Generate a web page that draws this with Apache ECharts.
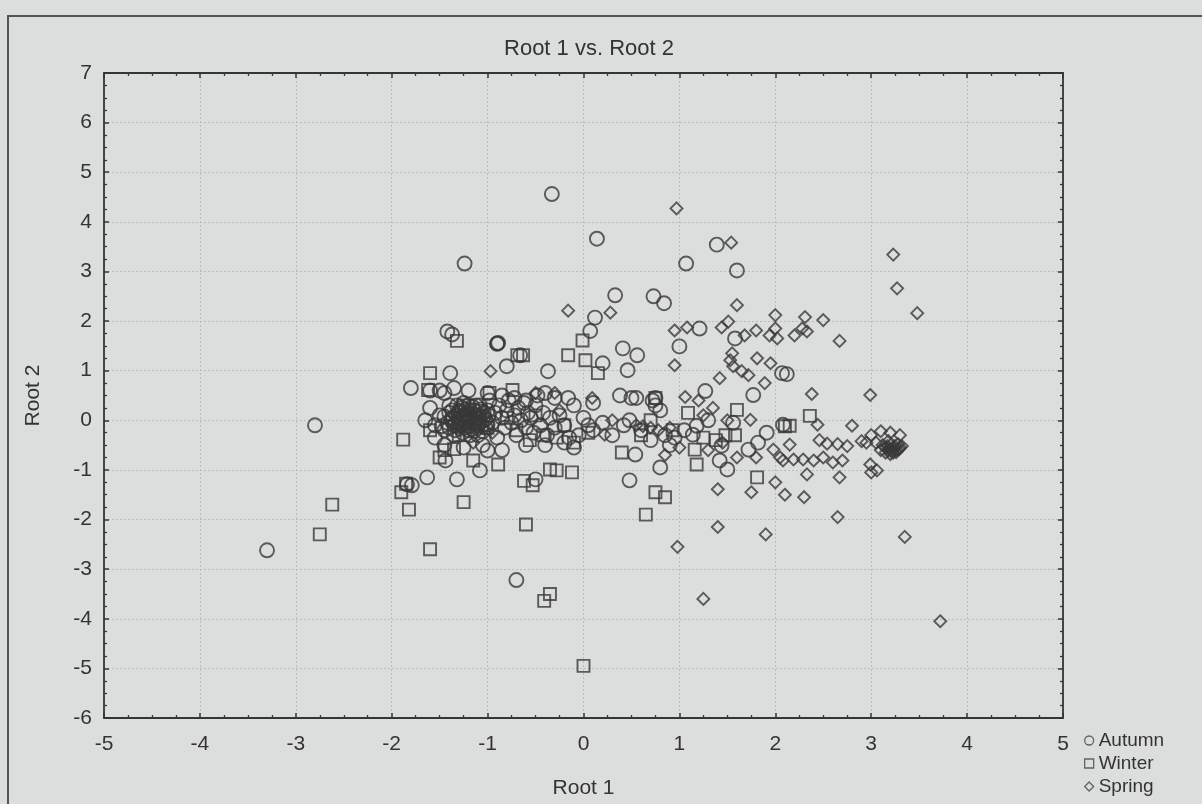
<!DOCTYPE html>
<html>
<head>
<meta charset="utf-8">
<title>Root 1 vs. Root 2</title>
<script src="https://cdn.jsdelivr.net/npm/echarts@6/dist/echarts.min.js"></script>
<style>
  html, body { margin: 0; padding: 0; background: #dcdedd; }
  #chart { width: 1202px; height: 804px; }
</style>
</head>
<body>
<div id="chart"></div>
<script>
// 轴刻度
var xTicks = { min: -5, max: 5, step: 1 }
var yTicks = { min: -6, max: 7, step: 1 }
var seasons = ['Autumn', 'Winter', 'Spring']

// Autumn (circles), values
var autumn = [
  [-0.33, 4.56], [0.14, 3.66], [-1.24, 3.16], [1.07, 3.16], [1.39, 3.54], [1.6, 3.02],
  [0.33, 2.52], [0.73, 2.5], [0.84, 2.36], [0.12, 2.07], [1.21, 1.85], [1.58, 1.65], [1.0, 1.49],
  [0.07, 1.8], [0.41, 1.45], [0.56, 1.31], [0.2, 1.15], [0.46, 1.01],
  [-1.42, 1.79], [-1.37, 1.73], [-0.9, 1.55], [-0.89, 1.56], [-0.9, 1.54], [-0.66, 1.31], [-0.8, 1.09], [-0.37, 0.99], [-1.39, 0.95],
  [2.07, 0.95], [2.12, 0.93], [1.27, 0.59], [1.77, 0.51], [0.75, 0.45], [0.72, 0.4],
  [1.3, 0.0], [1.56, -0.05], [2.08, -0.09], [1.91, -0.25], [1.18, -0.11], [1.14, -0.29], [1.44, -0.51],
  [1.72, -0.59], [1.82, -0.45], [1.42, -0.81], [1.5, -0.99],
  [-2.8, -0.1], [-3.3, -2.62], [-0.7, -3.22],
  [-1.8, 0.65], [0.48, -1.21], [0.54, -0.69], [-0.5, -1.19], [-1.84, -1.29], [-1.79, -1.31], [-1.63, -1.15],
  [-1.32, -1.19], [-1.08, -1.01], [-1.0, -0.61], [-1.44, -0.81],
  [0.38, 0.5], [0.5, 0.45], [0.55, 0.45], [0.75, 0.3], [0.8, 0.2], [0.85, -0.3], [0.7, -0.4], [0.6, -0.2],
  [0.42, -0.1], [0.3, -0.3], [0.8, -0.95], [0.9, -0.5], [0.95, -0.35], [1.05, -0.2], [0.48, 0.0], [0.2, -0.05],
  [0.1, -0.2], [0.05, -0.1], [-0.05, -0.3], [-0.1, -0.55], [-0.15, -0.35], [0.0, 0.05], [-0.2, -0.1],
  [-1.6, 0.6], [-1.5, 0.6], [-1.45, 0.55], [-1.35, 0.65], [-1.2, 0.6], [-1.0, 0.55], [-0.85, 0.5], [-0.72, 0.45],
  [-0.6, 0.4], [-0.48, 0.5], [-0.4, 0.55], [-0.3, 0.45], [-0.16, 0.45], [-0.1, 0.3], [0.1, 0.35],
  [-1.65, 0.0], [-1.55, -0.1], [-1.5, 0.1], [-1.45, -0.2], [-1.4, 0.3], [-1.38, 0.0], [-1.35, -0.3], [-1.3, 0.15],
  [-1.28, -0.1], [-1.25, 0.35], [-1.22, 0.05], [-1.2, -0.2], [-1.18, 0.2], [-1.15, -0.05], [-1.12, 0.1], [-1.1, -0.3],
  [-1.08, 0.3], [-1.05, 0.0], [-1.02, -0.15], [-1.0, 0.2], [-0.98, 0.4], [-0.95, -0.05], [-0.92, 0.15], [-0.9, -0.35],
  [-0.88, 0.3], [-0.85, 0.05], [-0.82, -0.15], [-0.8, 0.2], [-0.78, 0.4], [-0.75, -0.05], [-0.72, 0.1], [-0.7, -0.3],
  [-0.68, 0.25], [-0.65, 0.0], [-0.62, 0.35], [-0.6, -0.15], [-0.58, 0.15], [-0.55, 0.05], [-0.52, -0.25], [-0.5, 0.3],
  [-0.45, -0.1], [-0.42, 0.15], [-0.38, -0.3], [-0.35, 0.05], [-0.3, -0.15], [-0.25, 0.1], [-0.2, -0.45], [-0.4, -0.5],
  [-0.6, -0.5], [-0.85, -0.6], [-1.05, -0.5], [-1.25, -0.55], [-1.45, -0.5], [-1.55, -0.35], [-1.6, 0.25],
  [-1.33, 0.1], [-1.3, -0.05], [-1.27, 0.25], [-1.24, -0.15], [-1.21, 0.15], [-1.19, -0.02], [-1.16, 0.28], [-1.14, -0.22],
  [-1.11, 0.05], [-1.09, 0.18], [-1.06, -0.1], [-1.04, 0.08], [-1.2, 0.0], [-1.25, 0.1], [-1.15, 0.12], [-1.3, 0.2],
  [-1.1, -0.1], [-1.35, -0.1], [-1.4, 0.15], [-1.18, -0.3],
  [-1.42, -0.05], [-1.4, -0.15], [-1.37, 0.2], [-1.36, 0.05], [-1.34, -0.2], [-1.32, 0.3], [-1.31, -0.12], [-1.29, 0.05],
  [-1.28, 0.18], [-1.26, -0.25], [-1.26, 0.0], [-1.23, 0.22], [-1.23, -0.08], [-1.22, 0.12], [-1.2, 0.3], [-1.19, -0.12],
  [-1.17, 0.05], [-1.16, -0.18], [-1.14, 0.2], [-1.13, -0.02], [-1.12, 0.3], [-1.11, -0.15], [-1.09, 0.08], [-1.08, -0.05],
  [-1.07, 0.22], [-1.05, -0.22], [-1.04, 0.15], [-1.02, 0.02], [-1.0, -0.08], [-0.99, 0.1], [-1.45, 0.08], [-1.48, -0.12]
]

// Winter (squares)
var winter = [
  [0.0, -4.95], [-0.35, -3.5], [-0.41, -3.64], [-1.6, -2.6], [-2.75, -2.3], [-2.62, -1.7], [-1.9, -1.45], [-1.82, -1.8],
  [-1.85, -1.28], [-1.25, -1.65], [-0.6, -2.1], [0.65, -1.9], [0.75, -1.45], [0.85, -1.55],
  [0.4, -0.65], [1.16, -0.59], [1.18, -0.89], [1.81, -1.15], [1.09, 0.15], [1.6, 0.21], [2.36, 0.09], [2.15, -0.11],
  [1.25, -0.35], [1.38, -0.4], [1.48, -0.3], [1.58, -0.3], [2.1, -0.12],
  [-1.32, 1.6], [-0.69, 1.31], [-0.63, 1.31], [-0.01, 1.61], [-0.16, 1.31], [0.02, 1.21], [0.15, 0.95], [-1.6, 0.95],
  [-1.62, 0.61], [-0.98, 0.55], [-0.74, 0.61], [0.75, 0.45], [0.7, 0.0], [0.93, -0.2], [0.6, -0.3],
  [-1.88, -0.39], [-1.45, -0.6], [-1.35, -0.58], [-1.15, -0.81], [-0.89, -0.89], [-0.56, -0.4], [-0.42, -0.3],
  [-0.28, -0.35], [-0.35, -0.99], [-0.28, -1.01], [-0.12, -1.05], [-0.53, -1.31], [-0.62, -1.22], [-1.5, -0.75],
  [-1.6, -0.2], [-1.3, -0.3], [-1.0, -0.15], [-0.7, -0.2], [-0.1, -0.45], [0.05, -0.25], [-0.2, -0.1], [-0.8, 0.05],
  [-1.25, 0.3], [-0.5, 0.1]
]

// Spring (diamonds)
var spring = [
  [3.72, -4.05], [1.25, -3.6], [0.98, -2.55], [1.4, -2.15], [1.9, -2.3], [3.35, -2.35], [2.65, -1.95], [2.3, -1.55],
  [2.1, -1.5], [1.75, -1.45], [1.4, -1.39], [2.0, -1.25], [2.33, -1.09], [2.67, -1.15], [2.99, -0.89], [3.06, -1.01], [3.0, -1.05],
  [3.23, 3.34], [3.27, 2.66], [3.48, 2.16], [1.54, 3.58], [0.97, 4.27],
  [-0.16, 2.21], [0.28, 2.17], [1.6, 2.32], [2.0, 2.12], [2.31, 2.08], [2.5, 2.02], [2.67, 1.6],
  [0.95, 1.81], [1.08, 1.87], [1.44, 1.87], [1.51, 1.99], [1.68, 1.71], [1.8, 1.81], [2.0, 1.85], [1.94, 1.71],
  [2.02, 1.65], [2.2, 1.71], [2.28, 1.85], [2.33, 1.79],
  [0.95, 1.11], [1.55, 1.35], [1.53, 1.21], [1.56, 1.09], [1.81, 1.25], [1.95, 1.15], [1.65, 0.99], [1.72, 0.91],
  [1.42, 0.85], [1.89, 0.75], [2.38, 0.53], [2.99, 0.51], [1.06, 0.47], [1.35, 0.25], [1.74, 0.01], [2.44, -0.09],
  [2.8, -0.11], [2.15, -0.49], [1.98, -0.59],
  [2.46, -0.4], [2.54, -0.47], [2.65, -0.48], [2.75, -0.52], [2.9, -0.42],
  [3.0, -0.3], [3.1, -0.22], [3.2, -0.25], [3.3, -0.3], [2.95, -0.45],
  [3.12, -0.5], [3.15, -0.55], [3.18, -0.6], [3.2, -0.5], [3.22, -0.58], [3.25, -0.52], [3.27, -0.6], [3.3, -0.55],
  [3.15, -0.65], [3.23, -0.65], [3.1, -0.6], [3.28, -0.48], [3.18, -0.42], [3.05, -0.45],
  [3.17, -0.52], [3.19, -0.57], [3.21, -0.62], [3.24, -0.56], [3.26, -0.64], [3.29, -0.58], [3.32, -0.52], [3.2, -0.68],
  [2.05, -0.75], [2.08, -0.81], [2.19, -0.79], [2.29, -0.79], [2.4, -0.81], [2.5, -0.75], [2.6, -0.85], [2.7, -0.81],
  [0.22, -0.29], [0.09, 0.45], [-0.97, 0.99],
  [0.55, -0.1], [0.62, -0.12], [0.7, -0.15], [0.78, -0.2], [0.9, -0.15], [1.0, -0.55], [0.85, -0.7], [1.45, -0.45],
  [1.6, -0.75], [1.8, -0.75], [1.3, -0.6], [1.25, 0.1], [1.2, 0.4], [1.5, 0.0], [0.3, 0.0], [-0.25, 0.2],
  [-0.5, 0.55], [-0.3, 0.55], [-1.15, -0.45], [-0.95, -0.25], [-1.3, -0.2]
]

var ink = '#353535'
var font = 'Liberation Sans, Arial, sans-serif'

function axisCommon(t, pos, showLabel) {
  return {
    type: 'value',
    position: pos,
    min: t.min,
    max: t.max,
    interval: t.step,
    axisLine: { show: true, onZero: false, lineStyle: { color: ink, width: 1.8 } },
    axisTick: { show: true, inside: true, length: 5, lineStyle: { color: ink, width: 1.5 } },
    minorTick: { show: true, splitNumber: 4, length: 3, lineStyle: { color: ink, width: 1.3 } },
    axisLabel: { show: showLabel, color: '#333', fontSize: 21, fontFamily: font },
    splitLine: { show: false }
  }
}

var chart = echarts.init(document.getElementById('chart'))

var xMain = axisCommon(xTicks, 'bottom', true)
xMain.axisLabel.margin = 16
xMain.name = 'Root 1'
xMain.nameLocation = 'middle'
xMain.nameGap = 60
xMain.nameTextStyle = { color: '#333', fontSize: 21, fontFamily: font }
xMain.splitLine = { show: true, lineStyle: { color: '#b8bcbc', type: [2, 2], width: 1 } }

var yMain = axisCommon(yTicks, 'left', true)
yMain.axisLabel.margin = 12
yMain.name = 'Root 2'
yMain.nameLocation = 'middle'
yMain.nameGap = 60
yMain.nameTextStyle = { color: '#333', fontSize: 21, fontFamily: font }
yMain.splitLine = { show: true, lineStyle: { color: '#b8bcbc', type: [2, 2], width: 1 } }

var xTop = axisCommon(xTicks, 'top', false)
var yRight = axisCommon(yTicks, 'right', false)

function scatter(name, symbol, size, data) {
  return {
    name: name,
    type: 'scatter',
    symbol: symbol,
    symbolSize: size,
    data: data,
    itemStyle: { color: 'rgba(0,0,0,0)', borderColor: '#383838', borderWidth: 1.9 },
    emphasis: { disabled: true },
    silent: true
  }
}

chart.setOption({
  backgroundColor: '#dcdedd',
  animation: false,
  title: {
    text: 'Root 1 vs. Root 2',
    left: 584,
    top: 33,
    textAlign: 'center',
    textStyle: { color: '#333', fontSize: 22, fontWeight: 'normal', fontFamily: font }
  },
  grid: { left: 104, right: 139, top: 73, bottom: 82 },
  xAxis: [xMain, xTop],
  yAxis: [yMain, yRight],
  legend: {
    orient: 'vertical',
    left: 1079,
    top: 726,
    itemWidth: 9,
    itemHeight: 9,
    itemGap: 4,
    data: [
      { name: 'Autumn', icon: 'circle' },
      { name: 'Winter', icon: 'rect' },
      { name: 'Spring', icon: 'diamond' }
    ],
    itemStyle: { color: 'rgba(0,0,0,0)', borderColor: '#444', borderWidth: 1.3 },
    textStyle: { color: '#333', fontSize: 19, fontFamily: font }
  },
  graphic: [{
    type: 'rect',
    shape: { x: 8, y: 16, width: 1240, height: 840 },
    style: { fill: 'none', stroke: '#555', lineWidth: 2 },
    silent: true
  }],
  series: [
    scatter(seasons[0], 'circle', 14, autumn),
    scatter(seasons[1], 'rect', 12, winter),
    scatter(seasons[2], 'diamond', 12, spring)
  ]
})
</script>
</body>
</html>
